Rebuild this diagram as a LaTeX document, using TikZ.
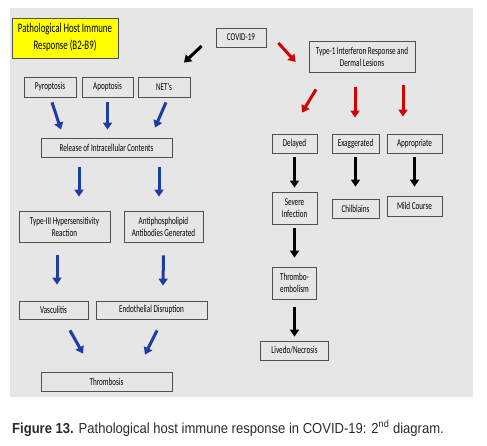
\documentclass[tikz,border=0pt]{standalone}
\usepackage{fontspec}
\setmainfont{Carlito}[FakeStretch=0.68]
\newfontfamily\capfont{Liberation Sans}[FakeStretch=0.9]
\usetikzlibrary{arrows.meta,positioning,calc}
\definecolor{panel}{HTML}{E6E6E6}
\definecolor{edge}{HTML}{505050}
\definecolor{hiyellow}{HTML}{FFFF00}
\definecolor{arrblue}{HTML}{1F3C9E}
\definecolor{arrred}{HTML}{D30000}
\definecolor{captext}{HTML}{2A2A2A}

\begin{document}
\begin{tikzpicture}[x=1pt,y=-1pt,
 font=\fontsize{10.5}{12}\selectfont,
 box/.style={draw=edge,fill=panel,line width=0.8pt,inner sep=0pt,align=center},
 arr/.style={line width=3pt,-{Triangle[length=7pt,width=9pt]}},
 barr/.style={arr,draw=arrblue},
 rarr/.style={arr,draw=arrred},
 karr/.style={arr,draw=black}
]
\useasboundingbox (0,0) rectangle (487,445);
\fill[panel] (10,8) rectangle (473,397);

% left branch
\node[box,fill=hiyellow,minimum width=106pt,minimum height=40pt,font=\fontsize{13}{17}\selectfont] (title) at (65,38) {Pathological Host Immune\\Response (B2-B9)};
\node[box,minimum width=50pt,minimum height=19pt] (covid) at (241,37.5) {COVID-19};
\node[box,minimum width=52pt,minimum height=20pt] (pyro) at (50,87) {Pyroptosis};
\node[box,minimum width=51pt,minimum height=20pt] (apop) at (107.5,87) {Apoptosis};
\node[box,minimum width=52pt,minimum height=20pt] (nets) at (164,87) {NET’s};
\node[box,minimum width=131pt,minimum height=19pt] (release) at (106.5,147.5) {Release of Intracellular Contents};
\node[box,minimum width=91pt,minimum height=31pt] (hyper) at (64.5,226.5) {Type-III Hypersensitivity\\Reaction};
\node[box,minimum width=79pt,minimum height=31pt] (antiph) at (163.5,226.5) {Antiphospholipid\\Antibodies Generated};
\node[box,minimum width=69pt,minimum height=18pt] (vasc) at (53.5,310) {Vasculitis};
\node[box,minimum width=111pt,minimum height=18pt] (endo) at (151.5,310) {Endothelial Disruption};
\node[box,minimum width=131pt,minimum height=19pt] (thromb) at (106.5,381.5) {Thrombosis};

% right branch
\node[box,minimum width=106pt,minimum height=31pt] (ifn) at (362,56.5) {Type-1 Interferon Response and\\Dermal Lesions};
\node[box,minimum width=45pt,minimum height=19pt] (delayed) at (294.5,143.5) {Delayed};
\node[box,minimum width=47pt,minimum height=19pt] (exag) at (355.5,143.5) {Exaggerated};
\node[box,minimum width=55pt,minimum height=19pt] (approp) at (414.5,143.5) {Appropriate};
\node[box,minimum width=45pt,minimum height=32pt] (severe) at (294.5,208) {Severe\\Infection};
\node[box,minimum width=47pt,minimum height=19pt] (chil) at (355.5,208.5) {Chilblains};
\node[box,minimum width=55pt,minimum height=20pt] (mild) at (414.5,206) {Mild Course};
\node[box,minimum width=44pt,minimum height=32pt] (embol) at (294.5,283) {Thrombo-\\embolism};
\node[box,minimum width=68pt,minimum height=19pt] (livedo) at (294.5,350.5) {Livedo/Necrosis};

% arrows
\draw[karr] ([xshift=-14pt,yshift=-8.5pt]covid.west) -- ([xshift=20pt,yshift=14pt]nets.north);
\draw[rarr] ([xshift=12pt,yshift=-5.5pt]covid.east) -- ([xshift=-13pt,yshift=-5.5pt]ifn.west);

\draw[barr] ([xshift=2pt,yshift=-5pt]pyro.south) -- ([xshift=-45.5pt,yshift=8pt]release.north);
\draw[barr] ([yshift=-5pt]apop.south) -- ([xshift=1pt,yshift=8pt]release.north);
\draw[barr] ([xshift=2pt,yshift=-5pt]nets.south) -- ([xshift=48.5pt,yshift=10pt]release.north);
\draw[barr] ([xshift=-27.5pt,yshift=-10pt]release.south) -- ([xshift=14.5pt,yshift=14pt]hyper.north);
\draw[barr] ([xshift=52.5pt,yshift=-10pt]release.south) -- ([xshift=-4.5pt,yshift=14pt]antiph.north);
\draw[barr] ([xshift=-7.5pt,yshift=-13pt]hyper.south) -- ([xshift=3.5pt,yshift=16pt]vasc.north);
\draw[barr] ([yshift=-13pt]antiph.south) -- ([xshift=11.5pt,yshift=15pt]endo.north);
\draw[barr] ([xshift=16.5pt,yshift=-11pt]vasc.south) -- ([xshift=-23.5pt,yshift=18pt]thromb.north);
\draw[barr] ([xshift=5.5pt,yshift=-11pt]endo.south) -- ([xshift=38.5pt,yshift=17pt]thromb.north);

\draw[rarr] ([xshift=-46pt,yshift=-17pt]ifn.south) -- ([xshift=7.5pt,yshift=21pt]delayed.north);
\draw[rarr] ([xshift=-7pt,yshift=-15pt]ifn.south) -- ([xshift=-0.5pt,yshift=16pt]exag.north);
\draw[rarr] ([xshift=41pt,yshift=-13pt]ifn.south) -- ([xshift=-11.5pt,yshift=17pt]approp.north);

\draw[karr,shorten <=4pt,shorten >=4pt] (delayed) -- (severe);
\draw[karr,shorten <=4pt,shorten >=12pt] (exag) -- (chil);
\draw[karr,shorten <=4pt,shorten >=9pt] (approp) -- (mild);
\draw[karr,shorten <=4pt,shorten >=9pt] (severe) -- (embol);
\draw[karr,shorten <=8pt,shorten >=4pt] (embol) -- (livedo);

% caption
\node[anchor=base west,inner sep=0pt,text=captext,font=\capfont\fontsize{14.5}{16}\selectfont] (caption) at (12,433) {\textbf{Figure 13.} Pathological host immune response in COVID-19: 2\textsuperscript{nd} diagram.};
\end{tikzpicture}
\end{document}
